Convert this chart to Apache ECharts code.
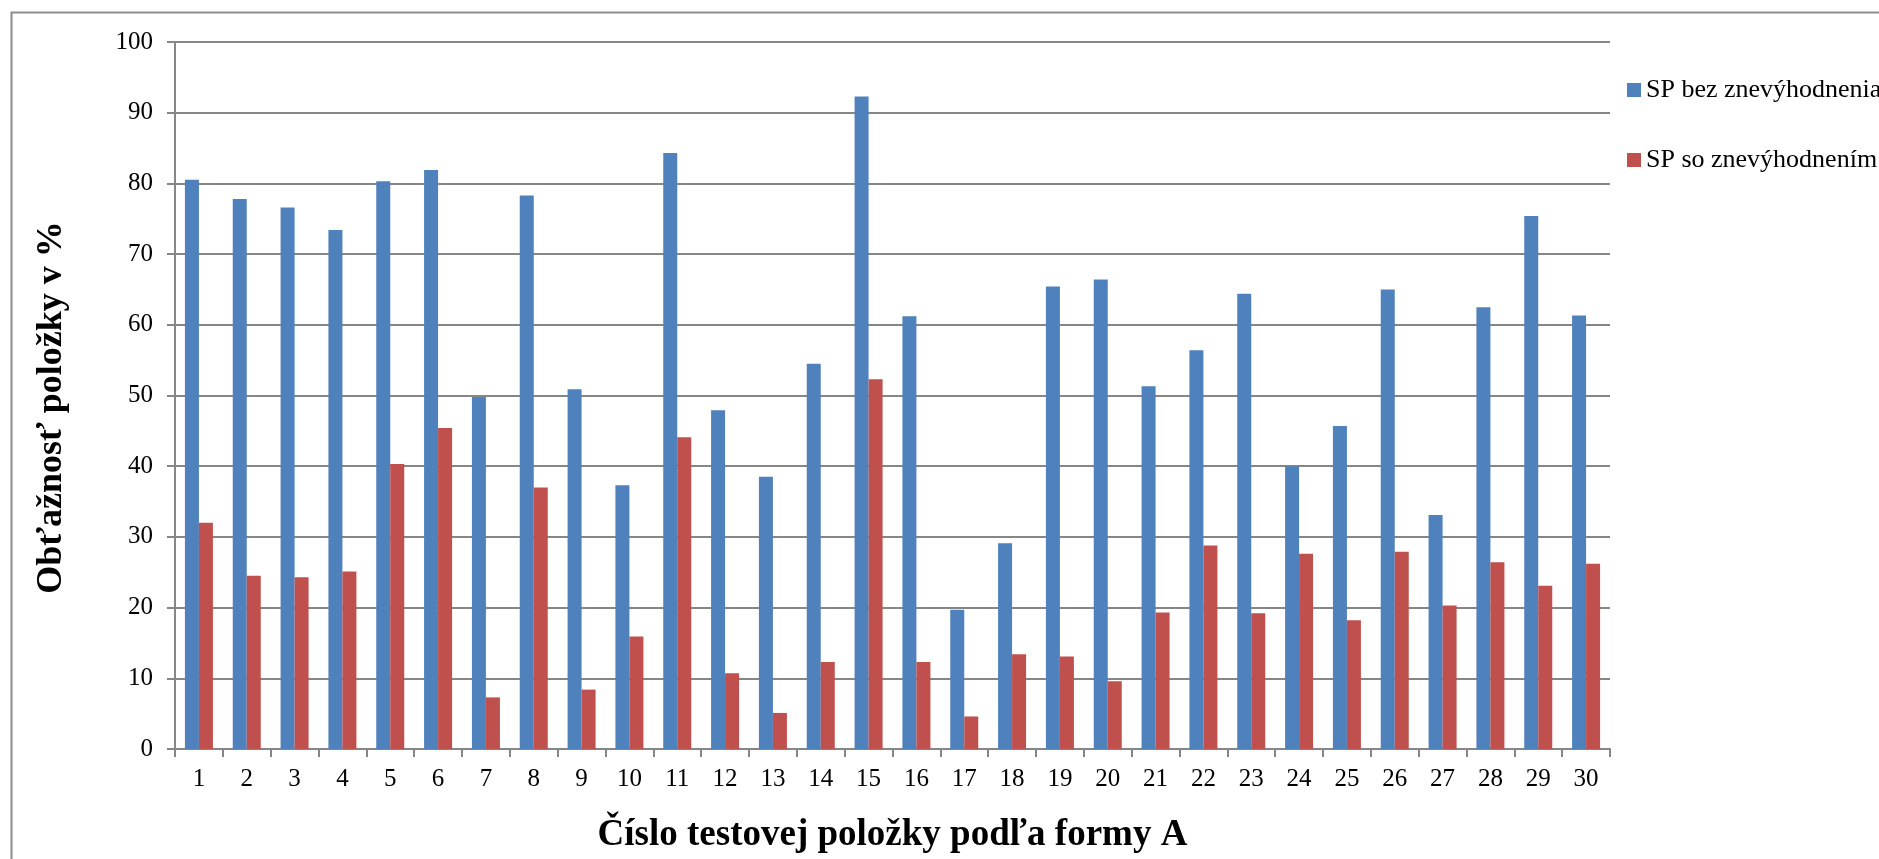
<!DOCTYPE html>
<html>
<head>
<meta charset="utf-8">
<script src="https://cdn.jsdelivr.net/npm/echarts@6/dist/echarts.min.js"></script>
<style>
html,body{margin:0;padding:0;background:#fff;}
#main{width:1879px;height:859px;}
</style>
</head>
<body>
<div id="main"></div>
<script>
const categories = ['1','2','3','4','5','6','7','8','9','10','11','12','13','14','15','16','17','18','19','20','21','22','23','24','25','26','27','28','29','30'];
const seriesNames = ['SP bez znevýhodnenia', 'SP so znevýhodnením'];
const bezValues = [80.5, 77.8, 76.6, 73.4, 80.3, 81.9, 49.8, 78.3, 50.9, 37.3, 84.3, 47.9, 38.5, 54.5, 92.3, 61.2, 19.7, 29.1, 65.4, 66.4, 51.3, 56.4, 64.4, 40.0, 45.7, 65.0, 33.1, 62.5, 75.4, 61.3];
const soValues = [32.0, 24.5, 24.3, 25.1, 40.3, 45.4, 7.3, 37.0, 8.4, 15.9, 44.1, 10.7, 5.1, 12.3, 52.3, 12.3, 4.6, 13.4, 13.1, 9.6, 19.3, 28.8, 19.2, 27.6, 18.2, 27.9, 20.3, 26.4, 23.1, 26.2];
const xTitle = 'Číslo testovej položky podľa formy A';
const yTitle = 'Obťažnosť položky v %';

const FONT = '"Liberation Serif", "Times New Roman", serif';
const GRAY = '#868686';

const chart = echarts.init(document.getElementById('main'));
chart.setOption({
  animation: false,
  backgroundColor: '#fff',
  textStyle: { fontFamily: FONT },
  graphic: [{
    type: 'rect', left: 9, top: 10, silent: true,
    shape: { width: 2000, height: 1000 },
    style: { fill: 'none', stroke: '#8c8c8c', lineWidth: 2 }
  }],
  grid: { left: 175, right: 269, top: 42, bottom: 109, containLabel: false },
  legend: {
    orient: 'vertical', left: 1622, top: 72,
    itemWidth: 14, itemHeight: 14, itemGap: 44,
    icon: 'rect',
    textStyle: { fontFamily: FONT, fontSize: 26, color: '#000' },
    data: seriesNames
  },
  xAxis: {
    type: 'category', data: categories,
    name: xTitle, nameLocation: 'middle', nameGap: 68,
    nameTextStyle: { fontFamily: FONT, fontSize: 37, fontWeight: 'bold', color: '#000' },
    axisLine: { lineStyle: { color: GRAY, width: 2 } },
    axisTick: { show: true, length: 8, lineStyle: { color: GRAY, width: 2 } },
    axisLabel: { fontFamily: FONT, fontSize: 25, color: '#000', margin: 18, interval: 0 }
  },
  yAxis: {
    type: 'value', min: 0, max: 100, interval: 10,
    name: yTitle, nameLocation: 'middle', nameGap: 105, nameRotate: 90,
    nameTextStyle: { fontFamily: FONT, fontSize: 36, fontWeight: 'bold', color: '#000', padding: [0, 24, 0, 0] },
    axisLine: { show: true, lineStyle: { color: GRAY, width: 2 } },
    axisTick: { show: true, length: 8, lineStyle: { color: GRAY, width: 2 } },
    axisLabel: { fontFamily: FONT, fontSize: 25, color: '#000', margin: 22 },
    splitLine: { show: true, lineStyle: { color: GRAY, width: 2 } }
  },
  series: [
    { name: seriesNames[0], type: 'bar', data: bezValues, barWidth: 14, barGap: '0%',
      itemStyle: { color: '#4F81BD' } },
    { name: seriesNames[1], type: 'bar', data: soValues, barWidth: 14, barGap: '0%',
      itemStyle: { color: '#C0504D' } }
  ]
});
</script>
</body>
</html>
